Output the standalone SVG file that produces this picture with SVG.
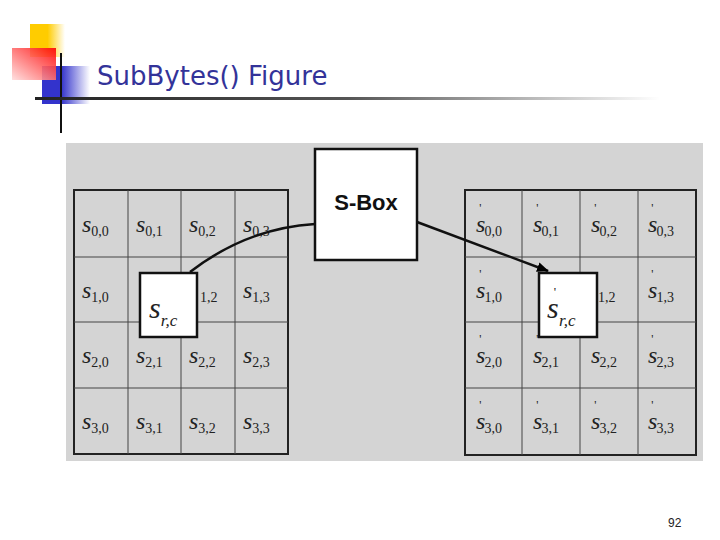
<svg xmlns="http://www.w3.org/2000/svg" width="720" height="540" viewBox="0 0 720 540">
<defs>
<linearGradient id="hl" x1="0" x2="1"><stop offset="0" stop-color="#222"/><stop offset="0.5" stop-color="#555"/><stop offset="1" stop-color="#fff"/></linearGradient>
<linearGradient id="red" x1="1" y1="0" x2="0" y2="1"><stop offset="0" stop-color="#f00"/><stop offset="1" stop-color="#fdd"/></linearGradient>
<linearGradient id="yel" x1="0" x2="1"><stop offset="0.5" stop-color="#fc0"/><stop offset="1" stop-color="#fff"/></linearGradient>
<linearGradient id="blu" x1="0" x2="1"><stop offset="0.4" stop-color="#33c"/><stop offset="1" stop-color="#fff"/></linearGradient>
<marker id="ah" markerWidth="12" markerHeight="10" refX="11" refY="5" orient="auto" markerUnits="userSpaceOnUse"><path d="M0,0 L12,5 L0,10 Z" fill="#000"/></marker>
<style>
.box{fill:#fff;stroke:#111;stroke-width:2.5}
</style>
</defs>
<rect width="720" height="540" fill="#fff"/>
<g id="decor">
<rect x="30" y="24" width="35" height="33" fill="url(#yel)"/>
<rect x="42" y="66" width="48" height="38" fill="url(#blu)"/>
<rect x="12" y="48" width="44" height="32" fill="url(#red)" opacity="0.9"/>
<line x1="61" y1="53" x2="61" y2="133" stroke="#111" stroke-width="2"/>
<rect x="35" y="97" width="625" height="3" fill="url(#hl)"/>
</g>
<text x="97" y="85" font-family="Verdana,'DejaVu Sans',sans-serif" font-size="26" fill="#333399">SubBytes() Figure</text>
<rect x="66" y="143" width="637" height="318" fill="#d4d4d4"/>
<g id="left">
<rect x="74" y="190" width="214" height="264" fill="none" stroke="#222" stroke-width="2"/>
<path d="M128,190V454M181,190V454M235,190V454M74,257H288M74,322H288M74,388H288" stroke="#444" fill="none"/>
<g font-family="'Liberation Serif',serif" font-size="24" font-style="italic" fill="#222">
<text x="82" y="232">s<tspan font-style="normal" font-size="14" dy="4">0,0</tspan></text>
<text x="136" y="232">s<tspan font-style="normal" font-size="14" dy="4">0,1</tspan></text>
<text x="189" y="232">s<tspan font-style="normal" font-size="14" dy="4">0,2</tspan></text>
<text x="243" y="232">s<tspan font-style="normal" font-size="14" dy="4">0,3</tspan></text>
<text x="82" y="298">s<tspan font-style="normal" font-size="14" dy="4">1,0</tspan></text>
<text x="243" y="298">s<tspan font-style="normal" font-size="14" dy="4">1,3</tspan></text>
<text x="82" y="363">s<tspan font-style="normal" font-size="14" dy="4">2,0</tspan></text>
<text x="136" y="363">s<tspan font-style="normal" font-size="14" dy="4">2,1</tspan></text>
<text x="189" y="363">s<tspan font-style="normal" font-size="14" dy="4">2,2</tspan></text>
<text x="243" y="363">s<tspan font-style="normal" font-size="14" dy="4">2,3</tspan></text>
<text x="82" y="429">s<tspan font-style="normal" font-size="14" dy="4">3,0</tspan></text>
<text x="136" y="429">s<tspan font-style="normal" font-size="14" dy="4">3,1</tspan></text>
<text x="189" y="429">s<tspan font-style="normal" font-size="14" dy="4">3,2</tspan></text>
<text x="243" y="429">s<tspan font-style="normal" font-size="14" dy="4">3,3</tspan></text>
<text x="200" y="302" font-style="normal" font-size="14">1,2</text>
</g>
</g>
<g id="right">
<rect x="465" y="190" width="231" height="265" fill="none" stroke="#222" stroke-width="2"/>
<path d="M522,190V455M580,190V455M638,190V455M465,257H696M465,322H696M465,388H696" stroke="#444" fill="none"/>
<g font-family="'Liberation Serif',serif" font-size="24" font-style="italic" fill="#222">
<text x="476" y="232">s<tspan font-style="normal" font-size="12" dx="-6" dy="-20">'</tspan><tspan font-style="normal" font-size="14" dx="3" dy="24">0,0</tspan></text>
<text x="533" y="232">s<tspan font-style="normal" font-size="12" dx="-6" dy="-20">'</tspan><tspan font-style="normal" font-size="14" dx="3" dy="24">0,1</tspan></text>
<text x="591" y="232">s<tspan font-style="normal" font-size="12" dx="-6" dy="-20">'</tspan><tspan font-style="normal" font-size="14" dx="3" dy="24">0,2</tspan></text>
<text x="648" y="232">s<tspan font-style="normal" font-size="12" dx="-6" dy="-20">'</tspan><tspan font-style="normal" font-size="14" dx="3" dy="24">0,3</tspan></text>
<text x="476" y="298">s<tspan font-style="normal" font-size="12" dx="-6" dy="-20">'</tspan><tspan font-style="normal" font-size="14" dx="3" dy="24">1,0</tspan></text>
<text x="648" y="298">s<tspan font-style="normal" font-size="12" dx="-6" dy="-20">'</tspan><tspan font-style="normal" font-size="14" dx="3" dy="24">1,3</tspan></text>
<text x="476" y="363">s<tspan font-style="normal" font-size="12" dx="-6" dy="-20">'</tspan><tspan font-style="normal" font-size="14" dx="3" dy="24">2,0</tspan></text>
<text x="533" y="363">s<tspan font-style="normal" font-size="12" dx="-6" dy="-20">'</tspan><tspan font-style="normal" font-size="14" dx="3" dy="24">2,1</tspan></text>
<text x="591" y="363">s<tspan font-style="normal" font-size="12" dx="-6" dy="-20">'</tspan><tspan font-style="normal" font-size="14" dx="3" dy="24">2,2</tspan></text>
<text x="648" y="363">s<tspan font-style="normal" font-size="12" dx="-6" dy="-20">'</tspan><tspan font-style="normal" font-size="14" dx="3" dy="24">2,3</tspan></text>
<text x="476" y="429">s<tspan font-style="normal" font-size="12" dx="-6" dy="-20">'</tspan><tspan font-style="normal" font-size="14" dx="3" dy="24">3,0</tspan></text>
<text x="533" y="429">s<tspan font-style="normal" font-size="12" dx="-6" dy="-20">'</tspan><tspan font-style="normal" font-size="14" dx="3" dy="24">3,1</tspan></text>
<text x="591" y="429">s<tspan font-style="normal" font-size="12" dx="-6" dy="-20">'</tspan><tspan font-style="normal" font-size="14" dx="3" dy="24">3,2</tspan></text>
<text x="648" y="429">s<tspan font-style="normal" font-size="12" dx="-6" dy="-20">'</tspan><tspan font-style="normal" font-size="14" dx="3" dy="24">3,3</tspan></text>
<text x="598" y="302" font-style="normal" font-size="14">1,2</text>
</g>
</g>
<g id="connectors" fill="none" stroke="#111" stroke-width="2.5">
<path d="M190,272 C225,245 265,227 315,224"/>
<path d="M417,222 L548,271" marker-end="url(#ah)"/>
</g>
<g id="sbox">
<rect class="box" x="315" y="149" width="102" height="111"/>
<text x="366" y="210" text-anchor="middle" font-family="'Liberation Sans',sans-serif" font-weight="bold" font-size="22" fill="#111">S-Box</text>
</g>
<g id="src" font-family="'Liberation Serif',serif" fill="#222">
<rect class="box" x="140" y="273" width="57" height="64"/>
<text x="149" y="318" font-size="30" font-style="italic">s<tspan font-size="17" dy="8">r,c</tspan></text>
</g>
<g id="srcp" font-family="'Liberation Serif',serif" fill="#222">
<rect class="box" x="539" y="273" width="58" height="64"/>
<text x="547" y="318" font-size="30" font-style="italic">s<tspan font-style="normal" font-size="13" dx="-5" dy="-22">'</tspan><tspan font-size="17" dx="3" dy="30">r,c</tspan></text>
</g>
<text x="668" y="527" font-family="'Liberation Sans',sans-serif" font-size="12" fill="#222">92</text>
</svg>
